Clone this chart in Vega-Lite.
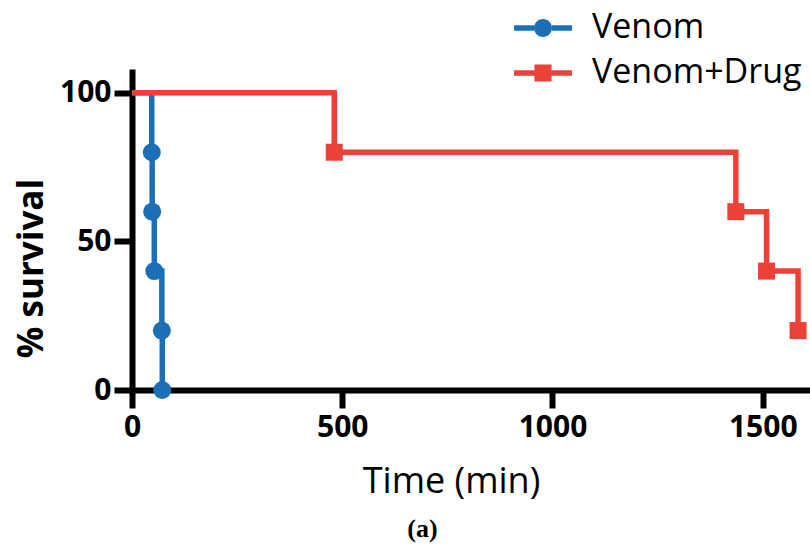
{
  "$schema": "https://vega.github.io/schema/vega-lite/v6.json",
  "width": 677,
  "height": 318,
  "autosize": {"type": "none"},
  "padding": {"left": 132, "top": 72, "right": 1, "bottom": 159},
  "background": "white",
  "title": {"text": "(a)", "orient": "bottom", "anchor": "middle", "dx": -48, "offset": 17, "font": "Liberation Serif", "fontWeight": "bold", "fontSize": 26, "color": "black"},
  "config": {"view": {"stroke": null}},
  "data": {"values": [
    {"group": "Venom", "time": 0, "survival": 100},
    {"group": "Venom", "time": 47, "survival": 80},
    {"group": "Venom", "time": 48, "survival": 60},
    {"group": "Venom", "time": 53, "survival": 40},
    {"group": "Venom", "time": 71, "survival": 20},
    {"group": "Venom", "time": 72, "survival": 0},
    {"group": "Venom+Drug", "time": 0, "survival": 100},
    {"group": "Venom+Drug", "time": 481, "survival": 80},
    {"group": "Venom+Drug", "time": 1436, "survival": 60},
    {"group": "Venom+Drug", "time": 1509, "survival": 40},
    {"group": "Venom+Drug", "time": 1584, "survival": 20}
  ]},
  "encoding": {
    "x": {"field": "time", "type": "quantitative",
      "scale": {"domain": [0, 1610], "nice": false, "zero": false},
      "axis": {"values": [0, 500, 1000, 1500], "format": "d", "grid": false, "domainColor": "black", "domainWidth": 6, "domainCap": "square",
        "tickColor": "black", "tickWidth": 6, "tickSize": 18, "labelFont": "Open Sans", "labelFontWeight": "bold", "labelFontSize": 30, "labelColor": "black", "labelPadding": 4,
        "title": "Time (min)", "titleFont": "Open Sans", "titleFontWeight": "normal", "titleFontSize": 36, "titleColor": "black",
        "titleX": 319, "titleY": 102, "titleBaseline": "alphabetic", "titleAlign": "center", "labelFlush": false}},
    "y": {"field": "survival", "type": "quantitative",
      "scale": {"domain": [0, 107], "nice": false},
      "axis": {"values": [0, 50, 100], "format": "d", "grid": false, "domainColor": "black", "domainWidth": 6, "domainCap": "square",
        "tickColor": "black", "tickWidth": 6, "tickSize": 18, "labelFont": "Open Sans", "labelFontWeight": "bold", "labelFontSize": 30, "labelColor": "black", "labelPadding": 3,
        "title": "% survival", "titleFont": "Open Sans", "titleFontWeight": "bold", "titleFontSize": 35, "titleColor": "black",
        "titleAngle": -90, "titleX": -90, "titleY": 196, "titleBaseline": "alphabetic", "titleAlign": "center", "labelFlush": false}},
    "color": {"field": "group", "type": "nominal",
      "scale": {"domain": ["Venom", "Venom+Drug"], "range": ["#1b6fb7", "#ec4138"]},
      "legend": {"title": null, "orient": "none", "legendX": 394, "legendY": -61, "padding": 0,
        "symbolSize": 900, "labelFont": "Open Sans", "labelFontSize": 34, "labelColor": "black", "labelOffset": 32, "rowPadding": 11, "labelLimit": 0,
        "encode": {"symbols": {"update": {
          "shape": {"signal": "datum.value === 'Venom' ? 'M-1.93,-0.18H-0.6V0.18H-1.93Z M0.6,-0.18H1.93V0.18H0.6Z M-0.6,0A0.6,0.6 0 1,1 0.6,0A0.6,0.6 0 1,1 -0.6,0Z' : 'M-1.93,-0.18H-0.57V0.18H-1.93Z M0.57,-0.18H1.93V0.18H0.57Z M-0.57,-0.57H0.57V0.57H-0.57Z'"},
          "fill": {"signal": "datum.value === 'Venom' ? '#1b6fb7' : '#ec4138'"},
          "strokeWidth": {"value": 0},
          "opacity": {"value": 1},
          "fillOpacity": {"value": 1},
          "size": {"value": 900}
        }}}}}
  },
  "layer": [
    {"mark": {"type": "line", "interpolate": "step-after", "strokeWidth": 5.5, "clip": false}},
    {"transform": [{"filter": "datum.time > 0 && datum.group === 'Venom'"}],
     "mark": {"type": "point", "filled": true, "opacity": 1, "shape": "circle", "size": 324, "clip": false}},
    {"transform": [{"filter": "datum.time > 0 && datum.group === 'Venom+Drug'"}],
     "mark": {"type": "point", "filled": true, "opacity": 1, "shape": "square", "size": 289, "clip": false}}
  ]
}
